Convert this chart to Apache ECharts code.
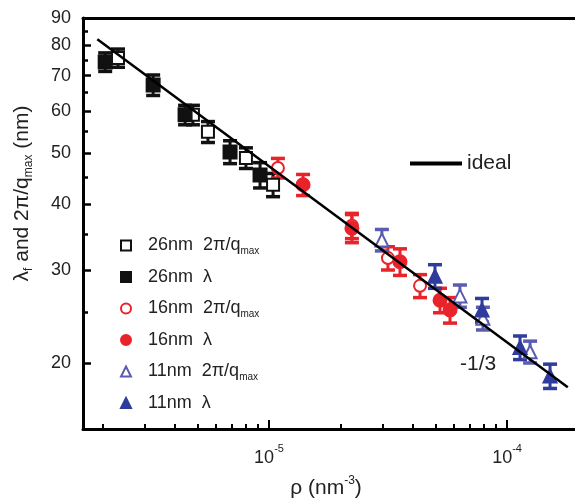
<!DOCTYPE html>
<html><head><meta charset="utf-8">
<script src="https://cdn.jsdelivr.net/npm/echarts@6/dist/echarts.min.js"></script>
<style>html,body{margin:0;padding:0;background:#fff}#c{width:575px;height:501px}</style>
</head><body><div id="c"></div>
<script>
// ---- data (ρ in nm^-3, λ in nm, err = ± nm) ----
const rho26q = [2.32e-6, 4.79e-6, 5.54e-6, 8.0e-6, 1.04e-5];
const lam26q = [75.6, 59.0, 54.8, 48.9, 43.5];
const err26q = [3.0, 2.5, 2.5, 2.2, 2.2];

const rho26l = [2.05e-6, 3.26e-6, 4.44e-6, 6.86e-6, 9.17e-6];
const lam26l = [74.3, 67.2, 59.0, 50.2, 45.4];
const err26l = [3.0, 3.0, 2.5, 2.5, 2.5];

const rho16q = [1.09e-5, 2.23e-5, 3.16e-5, 4.31e-5];
const lam16q = [46.8, 36.4, 31.6, 28.0];
const err16q = [2.0, 2.0, 1.6, 1.4];

const rho16l = [1.39e-5, 2.23e-5, 3.55e-5, 5.23e-5, 5.76e-5];
const lam16l = [43.5, 36.0, 31.1, 26.3, 25.2];
const err16l = [2.0, 2.2, 1.8, 1.4, 1.4];

const rho11q = [2.98e-5, 6.34e-5, 7.92e-5, 1.25e-4];
const lam11q = [34.2, 26.8, 24.3, 21.0];
const err11q = [1.6, 1.3, 1.2, 1.0];

const rho11l = [4.98e-5, 7.85e-5, 1.134e-4, 1.516e-4];
const lam11l = [29.2, 25.2, 21.4, 18.9];
const err11l = [1.5, 1.3, 1.1, 1.0];

const idealRho = [1.9e-6, 1.80e-4];
const idealLam = [82.0, 18.0];

const xMajor = [1e-5, 1e-4];
const xMinor = [2e-6,3e-6,4e-6,5e-6,6e-6,7e-6,8e-6,9e-6,2e-5,3e-5,4e-5,5e-5,6e-5,7e-5,8e-5,9e-5];
const yMajor = [20,30,40,50,60,70,80,90];
const yMinor = [25,35,45,55,65,75,85];

const names = ['26nm 2π/qmax','26nm λ','16nm 2π/qmax','16nm λ','11nm 2π/qmax','11nm λ'];

const BLACK = '#111111', RED = '#e8232a', BLUE = '#2f3c9e', BLUE_O = '#5b5cb0';

function pts(r, l){ return r.map((v,i)=>[v, l[i]]); }
function errs(r, l, e){ return r.map((v,i)=>[v, l[i]-e[i], l[i]+e[i]]); }

function renderErr(params, api){
  const x = api.value(0);
  const p1 = api.coord([x, api.value(1)]);
  const p2 = api.coord([x, api.value(2)]);
  const w = 7;
  const c = api.visual('color');
  return {type:'group', children:[
    {type:'line', shape:{x1:p1[0], y1:p1[1], x2:p2[0], y2:p2[1]}, style:{stroke:c, lineWidth:3}},
    {type:'line', shape:{x1:p1[0]-w, y1:p1[1], x2:p1[0]+w, y2:p1[1]}, style:{stroke:c, lineWidth:3.5}},
    {type:'line', shape:{x1:p2[0]-w, y1:p2[1], x2:p2[0]+w, y2:p2[1]}, style:{stroke:c, lineWidth:3.5}}
  ]};
}

function errSeries(id, data, color){
  return {type:'custom', name:id, xAxisIndex:0, yAxisIndex:0, renderItem:renderErr,
    itemStyle:{color:color}, data:data, encode:{x:0, y:[1,2]}, z:2, silent:true};
}
function scat(name, data, symbol, size, fill, border){
  return {type:'scatter', name:name, xAxisIndex:0, yAxisIndex:0, symbol:symbol, symbolSize:size,
    itemStyle:{color:fill, borderColor:border, borderWidth:2, opacity:1}, data:data, z:3};
}

const chart = echarts.init(document.getElementById('c'), null, {renderer:'canvas'});
const G = {left:83, top:18, width:492, height:411, outerBoundsMode:'none', containLabel:false};
const xMin = 1.654e-6, xMax = 1.93e-4, yMin = 15, yMax = 90;
const FONT = 'Liberation Sans, Arial, sans-serif';

chart.setOption({
  animation:false,
  backgroundColor:'#fff',
  textStyle:{fontFamily:FONT},
  grid:[Object.assign({}, G), Object.assign({}, G)],
  xAxis:[
    {gridIndex:0, type:'log', min:xMin, max:xMax, position:'bottom',
     axisLine:{show:true, lineStyle:{color:'#000', width:3}},
     axisTick:{show:true, inside:true, length:9, customValues:xMajor, lineStyle:{color:'#000', width:2}},
     axisLabel:{show:true, customValues:xMajor, margin:14, color:'#222',
       formatter:function(v){ return '{b|10}{s|' + Math.round(Math.log10(v)) + '}'; },
       rich:{b:{fontSize:18, fontFamily:FONT, color:'#222', lineHeight:24, verticalAlign:'bottom'},
             s:{fontSize:11, fontFamily:FONT, color:'#222', lineHeight:24, verticalAlign:'top'}}},
     splitLine:{show:false}, minorTick:{show:false},
     name:'ρ (nm{s|-3})', nameLocation:'middle', nameGap:46,
     nameTextStyle:{fontSize:21, color:'#222', fontFamily:FONT, padding:[0,6,0,0], lineHeight:26,
       rich:{s:{fontSize:12, fontFamily:FONT, color:'#222', verticalAlign:'top', lineHeight:26}}}},
    {gridIndex:0, type:'log', min:xMin, max:xMax, position:'top',
     axisLine:{show:true, lineStyle:{color:'#000', width:3}},
     axisTick:{show:false}, axisLabel:{show:false}, splitLine:{show:false}},
    {gridIndex:1, type:'log', min:xMin, max:xMax, position:'bottom',
     axisLine:{show:false},
     axisTick:{show:true, inside:true, length:5, customValues:xMinor, lineStyle:{color:'#000', width:2}},
     axisLabel:{show:false}, splitLine:{show:false}}
  ],
  yAxis:[
    {gridIndex:0, type:'log', min:yMin, max:yMax, position:'left',
     axisLine:{show:true, lineStyle:{color:'#000', width:3}},
     axisTick:{show:true, inside:true, length:8, customValues:yMajor, lineStyle:{color:'#000', width:2.5}},
     axisLabel:{show:true, customValues:yMajor, margin:12, fontSize:18, color:'#222', fontFamily:FONT},
     splitLine:{show:false},
     name:'λ{s|f} and 2π/q{s|max} (nm)', nameLocation:'middle', nameGap:48, nameRotate:90,
     nameTextStyle:{fontSize:21, color:'#222', fontFamily:FONT, lineHeight:26, padding:[0,0,0,60],
       rich:{s:{fontSize:12, fontFamily:FONT, color:'#222', verticalAlign:'bottom', lineHeight:26}}}},
    {gridIndex:1, type:'log', min:yMin, max:yMax, position:'left',
     axisLine:{show:false},
     axisTick:{show:true, inside:true, length:5, customValues:yMinor, lineStyle:{color:'#000', width:2.5}},
     axisLabel:{show:false}, splitLine:{show:false}}
  ],
  legend:[
    {data:names, orient:'vertical', left:115, top:230, itemWidth:10, itemHeight:10, itemGap:10.5,
     textStyle:{fontSize:18, color:'#222', fontFamily:FONT, lineHeight:21, padding:[0,0,0,12],
       rich:{s:{fontSize:10, fontFamily:FONT, color:'#222', verticalAlign:'bottom', lineHeight:21}}},
     formatter:function(n){ return n.replace(' ', '  ').replace('qmax','q{s|max}'); },
     selectedMode:false},
    {data:[{name:'ideal', icon:'rect'}], left:405, top:148, itemWidth:52, itemHeight:4,
     itemStyle:{color:'#000'},
     textStyle:{fontSize:21, color:'#222', fontFamily:FONT}, selectedMode:false}
  ],
  graphic:[
    {type:'text', left:460, top:354, style:{text:'-1/3', fontSize:21, fill:'#222', fontFamily:FONT}}
  ],
  series:[
    errSeries('e26q', errs(rho26q, lam26q, err26q), BLACK),
    errSeries('e26l', errs(rho26l, lam26l, err26l), BLACK),
    errSeries('e16q', errs(rho16q, lam16q, err16q), RED),
    errSeries('e16l', errs(rho16l, lam16l, err16l), RED),
    errSeries('e11q', errs(rho11q, lam11q, err11q), BLUE_O),
    errSeries('e11l', errs(rho11l, lam11l, err11l), BLUE),
    scat(names[0], pts(rho26q, lam26q), 'rect', 12, '#fff', BLACK),
    scat(names[1], pts(rho26l, lam26l), 'rect', 13, BLACK, BLACK),
    scat(names[2], pts(rho16q, lam16q), 'circle', 12, '#fff', RED),
    scat(names[3], pts(rho16l, lam16l), 'circle', 13, RED, RED),
    scat(names[4], pts(rho11q, lam11q), 'triangle', 13, '#fff', BLUE_O),
    scat(names[5], pts(rho11l, lam11l), 'triangle', 13, BLUE, BLUE),
    {type:'line', name:'ideal', xAxisIndex:0, yAxisIndex:0, data:pts(idealRho, idealLam),
     symbol:'none', lineStyle:{color:'#000', width:2.5}, itemStyle:{color:'#000'}, z:4, silent:true}
  ]
});
</script>
</body></html>
